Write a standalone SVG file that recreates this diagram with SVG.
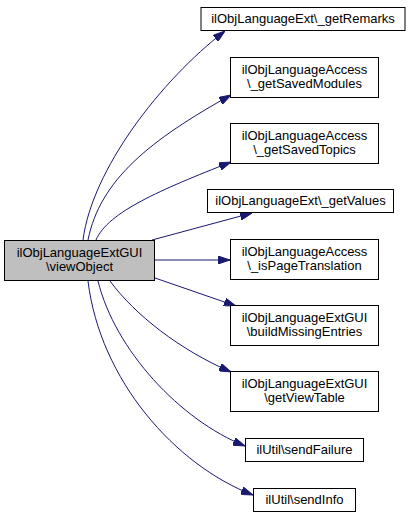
<svg xmlns="http://www.w3.org/2000/svg" width="413" height="519" viewBox="0 0 413 519">
<style>
.box{fill:#ffffff;stroke:#000000;stroke-width:1}
.main{fill:#bfbfbf;stroke:#000000;stroke-width:1}
text{font-family:"Liberation Sans",Arial,Helvetica,sans-serif;font-size:13px;fill:#000000;text-anchor:middle}
.edge{fill:none;stroke:#191970;stroke-width:1}
</style>
<defs>
<marker id="arr" markerUnits="userSpaceOnUse" markerWidth="12" markerHeight="8" viewBox="0 0 12 8" refX="12" refY="4" orient="auto">
<path d="M0,0 L12,4 L0,8 z" fill="#191970" stroke="#191970" stroke-width="1"/>
</marker>
</defs>
<rect width="413" height="519" fill="#ffffff"/>
<g id="connectors">
<path class="edge" marker-end="url(#arr)" d="M83,240 C92,170 160,81 225,31"/>
<path class="edge" marker-end="url(#arr)" d="M88,240 C100,180 150,140 231,95"/>
<path class="edge" marker-end="url(#arr)" d="M96,240 C108,212 160,190 231,162"/>
<path class="edge" marker-end="url(#arr)" d="M152,240 L252,213"/>
<path class="edge" marker-end="url(#arr)" d="M155,260 L230,260"/>
<path class="edge" marker-end="url(#arr)" d="M155,278 L236,306"/>
<path class="edge" marker-end="url(#arr)" d="M110,281 C135,315 180,350 231,372"/>
<path class="edge" marker-end="url(#arr)" d="M98,281 C115,350 180,420 245,446"/>
<path class="edge" marker-end="url(#arr)" d="M88,281 C100,380 175,465 253,495"/>
</g>
<g id="node-main">
<rect class="main" x="4.5" y="240.5" width="150" height="40"/>
<text x="79.5" y="257">ilObjLanguageExtGUI</text>
<text x="79.5" y="271">\viewObject</text>
</g>
<g id="node-getRemarks">
<rect class="box" x="201" y="7.5" width="204" height="23"/>
<text x="303" y="23">ilObjLanguageExt\_getRemarks</text>
</g>
<g id="node-getSavedModules">
<rect class="box" x="230.5" y="57.5" width="148" height="40"/>
<text x="304.5" y="74">ilObjLanguageAccess</text>
<text x="304.5" y="88">\_getSavedModules</text>
</g>
<g id="node-getSavedTopics">
<rect class="box" x="230.5" y="123.5" width="148" height="40"/>
<text x="304.5" y="140">ilObjLanguageAccess</text>
<text x="304.5" y="154">\_getSavedTopics</text>
</g>
<g id="node-getValues">
<rect class="box" x="207.5" y="189.5" width="186" height="23"/>
<text x="300.5" y="205">ilObjLanguageExt\_getValues</text>
</g>
<g id="node-isPageTranslation">
<rect class="box" x="230.5" y="239.5" width="148" height="40"/>
<text x="304.5" y="256">ilObjLanguageAccess</text>
<text x="304.5" y="270">\_isPageTranslation</text>
</g>
<g id="node-buildMissingEntries">
<rect class="box" x="230.5" y="305.5" width="148" height="40"/>
<text x="304.5" y="322">ilObjLanguageExtGUI</text>
<text x="304.5" y="336">\buildMissingEntries</text>
</g>
<g id="node-getViewTable">
<rect class="box" x="230.5" y="371.5" width="148" height="40"/>
<text x="304.5" y="388">ilObjLanguageExtGUI</text>
<text x="304.5" y="402">\getViewTable</text>
</g>
<g id="node-sendFailure">
<rect class="box" x="245.5" y="438.5" width="118" height="23"/>
<text x="304.5" y="454">ilUtil\sendFailure</text>
</g>
<g id="node-sendInfo">
<rect class="box" x="253.5" y="488.5" width="102" height="23"/>
<text x="304.5" y="504">ilUtil\sendInfo</text>
</g>
</svg>
